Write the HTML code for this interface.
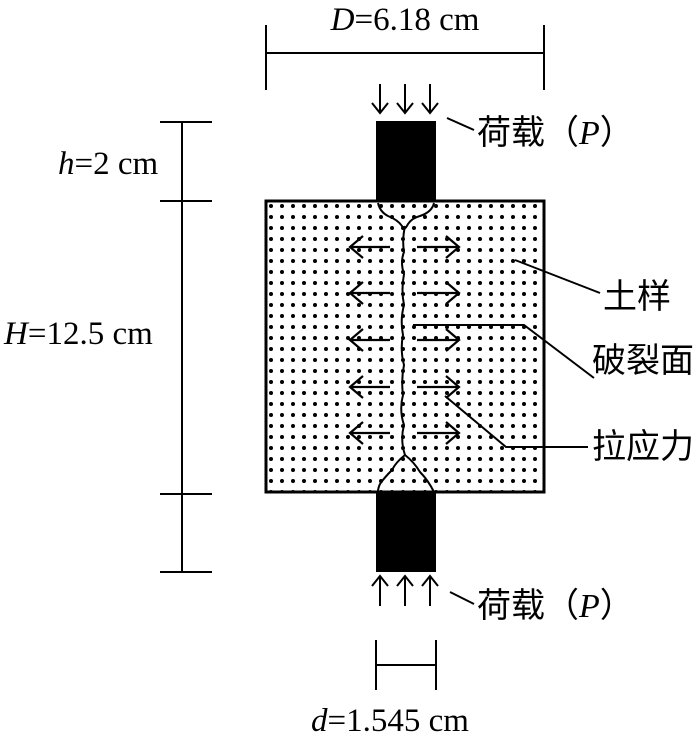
<!DOCTYPE html>
<html><head><meta charset="utf-8"><style>
html,body{margin:0;padding:0;background:#fff;}
svg{display:block;}
.s{font-family:"Liberation Serif",serif;font-size:33px;}
.c{font-family:"Liberation Sans","Noto Sans CJK SC",sans-serif;font-size:34px;}
</style></head><body>
<svg width="700" height="744" viewBox="0 0 700 744" xmlns="http://www.w3.org/2000/svg">
<defs>
<pattern id="dots" x="266" y="201" width="11" height="11" patternUnits="userSpaceOnUse">
<circle cx="5" cy="5" r="2" fill="#000"/>
</pattern>
</defs>
<g stroke="#000" stroke-width="2" fill="none">
<line x1="266" y1="25" x2="266" y2="90"/>
<line x1="544" y1="25" x2="544" y2="90"/>
<line x1="266" y1="53" x2="544" y2="53"/>
<line x1="182" y1="122" x2="182" y2="572"/>
<line x1="160" y1="122" x2="212" y2="122"/>
<line x1="160" y1="201" x2="212" y2="201"/>
<line x1="160" y1="494" x2="212" y2="494"/>
<line x1="160" y1="572" x2="212" y2="572"/>
<line x1="376" y1="640" x2="376" y2="690"/>
<line x1="436" y1="640" x2="436" y2="690"/>
<line x1="376" y1="665" x2="436" y2="665"/>
</g>
<rect x="266" y="201" width="278" height="291" fill="url(#dots)" stroke="#000" stroke-width="3"/>
<rect x="376" y="121" width="60" height="80" fill="#000"/>
<rect x="376" y="492" width="60" height="80" fill="#000"/>
<g stroke="#000" stroke-width="2" fill="none">
<path d="M378 203 Q380 212 388 216 Q398 220 402 226 Q404 232 408 224 Q412 218 420 216 Q432 212 434 203"/>
<path d="M405 226 Q402 240 404 252 Q400 262 404 274 Q401 290 404 305 Q400 320 403 335 Q400 350 404 365 Q401 380 403 395 Q399 410 404 425 Q400 440 405 455"/>
<path d="M405 455 Q396 462 392 470 Q384 478 380 484 Q378 488 378 492"/>
<path d="M405 455 Q414 462 420 472 Q428 480 434 492"/>
<g stroke-width="2.2">
<path d="M390 247 H350 M363 236 L350 247 L363 258 M417 247 H459 M446 236 L459 247 L446 258"/>
<path d="M390 293 H350 M363 282 L350 293 L363 304 M417 293 H459 M446 282 L459 293 L446 304"/>
<path d="M390 340 H350 M363 329 L350 340 L363 351 M417 340 H459 M446 329 L459 340 L446 351"/>
<path d="M390 387 H350 M363 376 L350 387 L363 398 M417 387 H459 M446 376 L459 387 L446 398"/>
<path d="M390 433 H350 M363 422 L350 433 L363 444 M417 433 H459 M446 422 L459 433 L446 444"/>
</g>
<path d="M380 84 V113 M372 103 L380 113 L388 103"/>
<path d="M405 84 V113 M397 103 L405 113 L413 103"/>
<path d="M430 84 V113 M422 103 L430 113 L438 103"/>
<path d="M380 606 V576 M372 586 L380 576 L388 586"/>
<path d="M405 606 V576 M397 586 L405 576 L413 586"/>
<path d="M430 606 V576 M422 586 L430 576 L438 586"/>
<line x1="447" y1="118" x2="474" y2="130"/>
<line x1="450" y1="592" x2="474" y2="604"/>
<line x1="515" y1="260" x2="600" y2="293"/>
<path d="M413 325 H524 L594 378"/>
<path d="M445 396 L506 447 H588"/>
</g>
<text class="s" x="405" y="30" text-anchor="middle"><tspan font-style="italic">D</tspan>=6.18 cm</text>
<text class="s" x="58" y="174"><tspan font-style="italic">h</tspan>=2 cm</text>
<text class="s" x="4" y="344"><tspan font-style="italic">H</tspan>=12.5 cm</text>
<text class="s" x="390" y="731" text-anchor="middle"><tspan font-style="italic">d</tspan>=1.545 cm</text>
<text class="c" x="477" y="144">荷载（<tspan font-family="Liberation Serif" font-style="italic">P</tspan>）</text>
<text class="c" x="477" y="617">荷载（<tspan font-family="Liberation Serif" font-style="italic">P</tspan>）</text>
<text class="c" x="603" y="308">土样</text>
<text class="c" x="592" y="372">破裂面</text>
<text class="c" x="592" y="458">拉应力</text>
</svg>
</body></html>
